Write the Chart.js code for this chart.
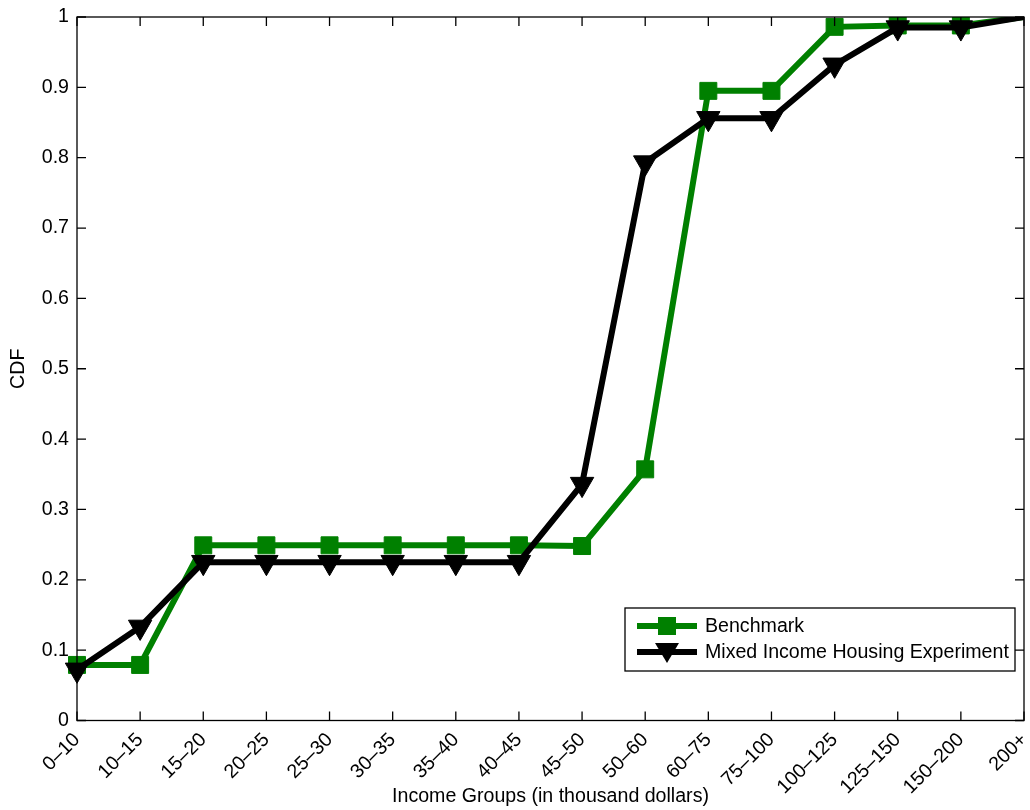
<!DOCTYPE html>
<html>
<head>
<meta charset="utf-8">
<script src="https://cdn.jsdelivr.net/npm/chart.js@4/dist/chart.umd.min.js"></script>
<style>
  html, body { margin: 0; padding: 0; background: #fff; }
  #wrap { width: 1030px; height: 810px; }
</style>
</head>
<body>
<div id="wrap"><canvas id="c" width="1030" height="810"></canvas></div>
<script>
const categories = ['0–10','10–15','15–20','20–25','25–30','30–35','35–40','40–45','45–50','50–60','60–75','75–100','100–125','125–150','150–200','200+'];
const benchmark = [0.079, 0.079, 0.249, 0.249, 0.249, 0.249, 0.249, 0.249, 0.248, 0.357, 0.895, 0.895, 0.986, 0.988, 0.988, 1.0];
const mixedIncome = [0.072, 0.133, 0.225, 0.225, 0.225, 0.225, 0.225, 0.225, 0.336, 0.793, 0.856, 0.856, 0.932, 0.985, 0.985, 1.0];
const yTicks = [0, 0.1, 0.2, 0.3, 0.4, 0.5, 0.6, 0.7, 0.8, 0.9, 1];
const seriesNames = ['Benchmark', 'Mixed Income Housing Experiment'];

const GREEN = '#008000';
const FONT = 'Liberation Sans, Arial, Helvetica, sans-serif';
const FS = 19.6;

const boxPlugin = {
  id: 'boxPlugin',
  afterDatasetsDraw(chart) {
    const { ctx, chartArea: a, scales: { x, y } } = chart;
    ctx.save();
    ctx.strokeStyle = '#000';
    ctx.lineWidth = 1.3;
    ctx.strokeRect(a.left, a.top, a.right - a.left, a.bottom - a.top);
    const TL = 9;
    ctx.beginPath();
    categories.forEach((c, i) => {
      const px = x.getPixelForTick(i);
      ctx.moveTo(px, a.bottom); ctx.lineTo(px, a.bottom - TL);
      ctx.moveTo(px, a.top); ctx.lineTo(px, a.top + TL);
    });
    yTicks.forEach(v => {
      const py = y.getPixelForValue(v);
      ctx.moveTo(a.left, py); ctx.lineTo(a.left + TL, py);
      ctx.moveTo(a.right, py); ctx.lineTo(a.right - TL, py);
    });
    ctx.stroke();

    // legend
    const lx = 625, ly = 608, lw = 390, lh = 63;
    ctx.fillStyle = '#fff';
    ctx.fillRect(lx, ly, lw, lh);
    ctx.lineWidth = 1.3;
    ctx.strokeRect(lx, ly, lw, lh);
    const rows = [626, 652];
    chart.data.datasets.forEach((ds, i) => {
      const ry = rows[i];
      ctx.strokeStyle = ds.borderColor;
      ctx.lineWidth = 6;
      ctx.beginPath();
      ctx.moveTo(637, ry); ctx.lineTo(697, ry);
      ctx.stroke();
      ctx.fillStyle = ds.borderColor;
      if (ds.pointStyle === 'rect') {
        ctx.fillRect(667 - 9, ry - 9, 18, 18);
      } else {
        ctx.beginPath();
        ctx.moveTo(667 - 12, ry - 9);
        ctx.lineTo(667 + 12, ry - 9);
        ctx.lineTo(667, ry + 11);
        ctx.closePath();
        ctx.fill();
      }
      ctx.fillStyle = '#000';
      ctx.font = FS + 'px ' + FONT;
      ctx.textAlign = 'left';
      ctx.textBaseline = 'middle';
      ctx.fillText(ds.label, 705, ry + 1);
    });
    ctx.restore();
  }
};

new Chart(document.getElementById('c'), {
  type: 'line',
  data: {
    labels: categories,
    datasets: [
      {
        label: seriesNames[0],
        data: benchmark,
        borderColor: GREEN,
        backgroundColor: GREEN,
        borderWidth: 6,
        tension: 0,
        pointStyle: 'rect',
        pointRadius: ctx => ctx.dataIndex === categories.length - 1 ? 0 : 12,
        pointBackgroundColor: GREEN,
        pointBorderColor: GREEN,
        pointBorderWidth: 1,
        order: 2,
        clip: { left: 20, top: 0, right: 0, bottom: 20 }
      },
      {
        label: seriesNames[1],
        data: mixedIncome,
        borderColor: '#000',
        backgroundColor: '#000',
        borderWidth: 6,
        tension: 0,
        pointStyle: 'triangle',
        pointRotation: 180,
        pointRadius: ctx => ctx.dataIndex === categories.length - 1 ? 0 : 13.5,
        pointBackgroundColor: '#000',
        pointBorderColor: '#000',
        pointBorderWidth: 1,
        order: 1,
        clip: { left: 20, top: 0, right: 0, bottom: 20 }
      }
    ]
  },
  options: {
    responsive: false,
    animation: false,
    devicePixelRatio: 1,
    layout: { autoPadding: false, padding: { top: 17, right: 6, left: 0, bottom: 0 } },
    plugins: {
      legend: { display: false },
      tooltip: { enabled: false },
      title: { display: false }
    },
    scales: {
      x: {
        type: 'category',
        offset: false,
        grid: { display: false, drawTicks: false },
        border: { display: false },
        ticks: {
          autoSkip: false,
          maxRotation: 45,
          minRotation: 45,
          padding: 8,
          color: '#000',
          font: { family: FONT, size: FS }
        },
        title: {
          display: true,
          text: 'Income Groups (in thousand dollars)',
          color: '#000',
          font: { family: FONT, size: FS },
          padding: { top: 0, bottom: 2 }
        },
        afterFit(scale) {
          scale.height = 89.5;
          scale.paddingLeft = 0;
          scale.paddingRight = 0;
        }
      },
      y: {
        min: 0,
        max: 1,
        grid: { display: false, drawTicks: false },
        border: { display: false },
        afterBuildTicks(scale) { scale.ticks = yTicks.map(v => ({ value: v })); },
        ticks: {
          padding: 8,
          color: '#000',
          font: { family: FONT, size: FS },
          callback: v => String(Math.round(v * 10) / 10)
        },
        title: {
          display: true,
          text: 'CDF',
          color: '#000',
          font: { family: FONT, size: FS },
          padding: { top: 7, bottom: 0 }
        },
        afterFit(scale) {
          scale.width = 77;
          scale.paddingTop = 0;
          scale.paddingBottom = 0;
        }
      }
    }
  },
  plugins: [boxPlugin]
});
</script>
</body>
</html>
